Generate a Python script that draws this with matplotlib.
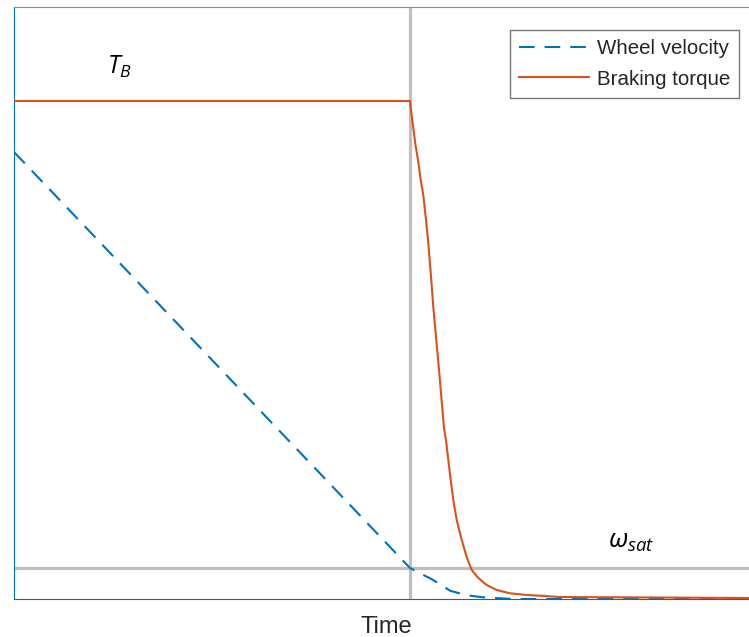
import matplotlib
matplotlib.use("Agg")
import matplotlib.pyplot as plt

plt.rcParams['font.family'] = ['Liberation Sans', 'DejaVu Sans']
plt.rcParams['mathtext.fontset'] = 'custom'
plt.rcParams['mathtext.it'] = 'Open Sans:italic'
plt.rcParams['mathtext.rm'] = 'Open Sans'

# time instants and levels (arbitrary units)
t_switch = 3.96
t_end = 7.35
T_B = 4.98
w_sat = 0.31

# braking torque: held at T_B, then released after the switch
torque_t = [0.0, 3.96, 3.97, 3.98, 3.993, 4.015, 4.043, 4.067, 4.093, 4.115,
            4.14, 4.165, 4.193, 4.223, 4.253, 4.28, 4.30, 4.32, 4.343, 4.367,
            4.393, 4.427, 4.477, 4.527, 4.577, 4.643, 4.727, 4.827, 4.96,
            5.127, 5.26, 5.46, 7.35]
torque_v = [T_B, T_B, 4.89, 4.81, 4.71, 4.54, 4.37, 4.19, 4.04, 3.84,
            3.59, 3.29, 2.92, 2.59, 2.26, 1.94, 1.71, 1.59, 1.39, 1.19,
            0.99, 0.79, 0.59, 0.42, 0.29, 0.21, 0.14, 0.09, 0.057,
            0.04, 0.033, 0.02, 0.01]

# wheel velocity: linear decrease, then decay towards zero
vel_t = [0.0, 3.96, 4.06, 4.16, 4.26, 4.36, 4.527, 4.69, 4.86, 4.99, 7.35]
vel_v = [4.47, 0.31, 0.257, 0.207, 0.15, 0.083, 0.037, 0.017, 0.007, 0.0, 0.0]

fig = plt.figure(figsize=(7.49, 6.37), dpi=100)
ax = fig.add_axes([14 / 749, 38 / 637, 735 / 749, 592 / 637])

ax.axvline(t_switch, color='#bfbfbf', lw=2.3, zorder=1)
ax.axhline(w_sat, color='#bfbfbf', lw=2.3, zorder=1)

ax.plot(vel_t, vel_v, color='#0072BD', lw=1.5, ls=(0, (7.5, 4.8)),
        label='Wheel velocity', zorder=3)
ax.plot(torque_t, torque_v, color='#D95319', lw=1.5,
        label='Braking torque', zorder=3)

ax.text(0.93, 5.25, r'$T_B$', fontsize=18, ha='left', va='baseline')
ax.text(5.94, 0.51, r'$\omega_{sat}$', fontsize=19, ha='left', va='baseline')

ax.set_xlim(0, t_end)
ax.set_ylim(0, 5.92)
ax.set_xticks([])
ax.set_yticks([])
ax.spines['right'].set_visible(False)
ax.spines['left'].set_color('#0072BD')
ax.spines['bottom'].set_color('#555555')
ax.spines['top'].set_color('#8c8c8c')

ax.set_xlabel('Time', fontsize=17, color='#262626', va='center')
ax.xaxis.set_label_coords(0.506, -0.047)

leg = ax.legend(loc='upper right', bbox_to_anchor=(739 / 749, 1 - 30 / 637),
                bbox_transform=fig.transFigure, borderaxespad=0,
                fontsize=14.8, handlelength=3.4, handletextpad=0.35,
                labelspacing=0.55, borderpad=0.45, fancybox=False)
leg.get_frame().set_edgecolor('#555555')
leg.get_frame().set_linewidth(1.0)
for txt in leg.get_texts():
    txt.set_color('#262626')

fig.savefig('out.png', dpi=100)
